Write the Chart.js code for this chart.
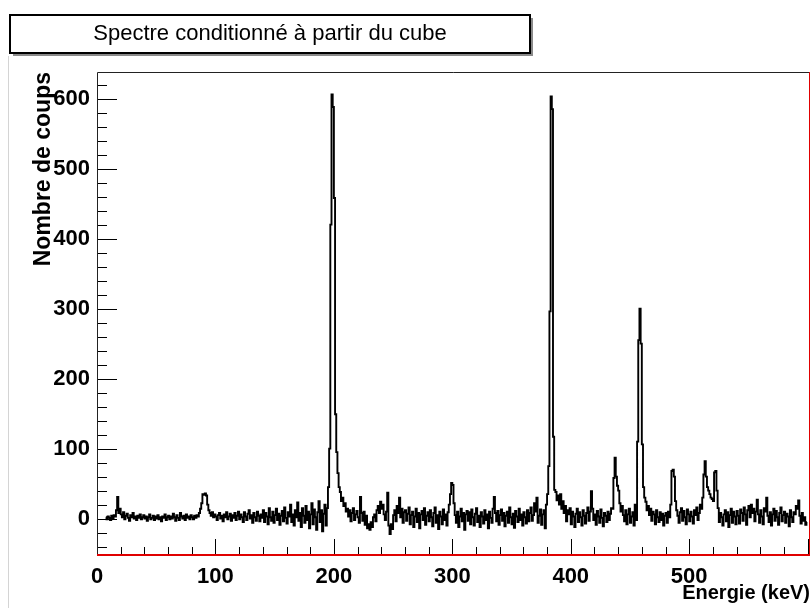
<!DOCTYPE html>
<html>
<head>
<meta charset="utf-8">
<script src="https://cdn.jsdelivr.net/npm/chart.js@4/dist/chart.umd.min.js"></script>
<style>
html, body { margin: 0; padding: 0; background: #fff; }
#wrap { width: 811px; height: 608px; }
</style>
</head>
<body>
<div id="wrap"><canvas id="spectre" width="811" height="608"></canvas></div>
<script>
var titre = 'Spectre conditionné à partir du cube';
var titreX = 'Energie (keV)';
var titreY = 'Nombre de coups';
var xTicks = [0, 100, 200, 300, 400, 500];
var yTicks = [0, 100, 200, 300, 400, 500, 600];

// contenu des canaux de 1 keV (canal i = [i, i+1] keV)
var coups = [
  null,null,null,null,null,null,null,2,-1,3,1,-2,4,0,5,3,12,31,8,14,
  6,2,9,-1,4,7,1,-3,5,2,8,0,3,-2,4,1,6,-1,2,5,
  0,3,-3,2,6,-1,1,4,-2,3,0,5,-1,2,-4,3,1,6,-2,2,
  4,-1,3,0,7,2,-3,5,1,-2,8,3,0,4,-2,6,1,3,-1,5,
  2,-1,4,1,5,3,8,14,22,35,34,36,33,20,12,8,4,9,2,6,
  3,-2,5,8,0,4,-4,6,2,9,-1,3,7,-3,5,1,8,-2,4,10,
  -1,6,2,-5,9,3,-2,7,12,0,5,-6,8,2,-3,10,4,-4,6,1,
  12,-5,8,3,-8,15,2,-3,10,-6,5,14,-2,7,-9,4,11,-4,16,1,
  -7,9,3,20,-5,6,-10,12,2,23,-3,8,-12,15,4,-6,18,-2,10,-14,
  6,22,-8,13,2,-16,9,25,-5,12,-18,7,20,-10,15,45,100,420,606,588,
  458,149,95,65,45,38,25,30,18,22,10,14,3,12,-4,8,15,-2,6,11,
  2,-6,31,8,-3,10,-9,4,-14,-8,-16,-5,-12,2,6,-4,12,18,8,24,
  14,20,6,-2,10,37,-10,-22,-8,-15,5,12,-4,18,8,30,2,14,-6,9,
  12,-3,7,16,-8,5,10,-12,3,14,-5,8,-14,6,11,-2,15,-9,4,9,
  -4,12,2,-11,8,16,-6,5,-15,10,3,-8,13,-2,6,-10,9,20,35,51,
  48,22,5,-6,10,-12,3,14,-4,8,-16,6,11,-3,9,-8,13,2,-10,7,
  15,-5,4,-12,9,3,-7,12,-2,6,-14,10,1,-6,14,31,8,-4,11,-9,
  5,13,-3,8,-11,4,10,-6,16,2,-8,7,-13,11,3,-5,14,-2,6,-10,
  9,2,-7,12,-4,8,16,-3,5,22,10,30,-6,4,13,-9,6,12,-14,20,
  35,75,296,603,585,117,41,38,26,33,20,35,14,25,8,18,-4,12,6,15,
  -8,10,3,-12,7,14,-5,9,2,-10,12,4,-7,8,16,-3,10,39,14,-2,
  6,-9,11,3,-6,13,1,-11,8,4,-5,10,-2,7,15,14,58,87,60,47,
  40,22,10,18,5,-4,12,-8,6,14,-6,3,9,-10,20,-2,110,255,300,250,
  106,45,30,24,12,18,5,14,-3,10,6,-8,12,2,-5,9,-2,7,-10,4,
  8,-6,10,2,20,68,70,60,25,12,4,-6,9,15,-3,11,2,-8,13,6,
  -4,10,3,-7,12,5,16,-2,8,20,14,30,63,82,60,45,40,35,30,28,
  25,66,68,40,15,-5,8,2,-10,6,12,-4,9,-12,5,14,-6,10,3,-8,
  11,4,-7,13,8,-3,16,6,-9,12,18,2,20,8,14,-4,10,27,6,-6,
  12,3,-8,15,10,30,4,-5,9,-10,6,14,-3,11,2,-9,8,16,-4,5,
  10,-6,7,3,-11,12,2,-5,9,6,18,14,26,4,-7,8,-3,2,-9,-5
];

var points = coups.map(function (c, i) { return { x: i + 0.5, y: c }; });
var police = '"Liberation Sans", Arial, Helvetica, sans-serif';

// cadre facon ROOT : graduations vers l'interieur, titre encadre
var cadre = {
    id: 'cadre',
    afterDraw: function (chart) {
        var c = chart.ctx, a = chart.chartArea;
        var sx = chart.scales.x, sy = chart.scales.y;
        c.save();
        // trait gris a gauche
        c.strokeStyle = '#d4d4d4';
        c.lineWidth = 1;
        c.beginPath(); c.moveTo(8.5, 56); c.lineTo(8.5, 608); c.stroke();

        c.strokeStyle = '#000';
        c.lineWidth = 1;
        for (var v = -40; v <= 620; v += 20) {
            var py = Math.round(sy.getPixelForValue(v)) + 0.5;
            var len = (v % 100 === 0) ? 20 : 10;
            c.beginPath(); c.moveTo(a.left, py); c.lineTo(a.left + len, py); c.stroke();
        }
        for (var e = 20; e <= 600; e += 20) {
            var px = Math.round(sx.getPixelForValue(e)) + 0.5;
            var lx = (e % 100 === 0) ? 16 : 8;
            c.beginPath(); c.moveTo(px, a.bottom); c.lineTo(px, a.bottom - lx); c.stroke();
        }
        // bords du cadre
        c.strokeStyle = '#222';
        c.beginPath();
        c.moveTo(a.left + 0.5, a.bottom); c.lineTo(a.left + 0.5, a.top + 0.5); c.lineTo(a.right, a.top + 0.5);
        c.stroke();
        c.strokeStyle = '#e00000';
        c.beginPath(); c.moveTo(a.right - 0.5, a.top); c.lineTo(a.right - 0.5, a.bottom); c.stroke();
        c.lineWidth = 2;
        c.beginPath(); c.moveTo(a.left, a.bottom); c.lineTo(a.right, a.bottom); c.stroke();

        // titre
        c.fillStyle = '#8a8a8a';
        c.fillRect(13, 18, 520, 38);
        c.fillStyle = '#fff';
        c.fillRect(10, 15, 520, 38);
        c.strokeStyle = '#000';
        c.lineWidth = 2;
        c.strokeRect(10, 15, 520, 38);
        c.fillStyle = '#000';
        c.font = '22px ' + police;
        c.textAlign = 'center';
        c.textBaseline = 'middle';
        c.fillText(titre, 270, 34);
        c.restore();
    }
};

var chart = new Chart(document.getElementById('spectre'), {
    type: 'line',
    data: {
        datasets: [{
            data: points,
            borderColor: '#000',
            borderWidth: 1.9,
            stepped: 'middle',
            pointRadius: 0,
            fill: false,
            spanGaps: false
        }]
    },
    options: {
        responsive: false,
        devicePixelRatio: 1,
        animation: false,
        layout: { padding: { top: 72, right: 1, left: 0, bottom: 0 } },
        plugins: { legend: { display: false }, tooltip: { enabled: false }, title: { display: false } },
        scales: {
            x: {
                type: 'linear',
                min: 0,
                max: 602,
                grid: { display: false, drawTicks: false },
                border: { display: false },
                afterBuildTicks: function (s) { s.ticks = xTicks.map(function (v) { return { value: v }; }); },
                afterFit: function (s) { s.height = 53; },
                ticks: { color: '#000', padding: 9, maxRotation: 0, font: { family: police, size: 22, weight: 'bold' } },
                title: { display: true, text: titreX, align: 'end', color: '#000', padding: { top: 0, bottom: 3 },
                         font: { family: police, size: 20, weight: 'bold' } }
            },
            y: {
                min: -52,
                max: 638,
                grid: { display: false, drawTicks: false },
                border: { display: false },
                afterBuildTicks: function (s) { s.ticks = yTicks.map(function (v) { return { value: v }; }); },
                afterFit: function (s) { s.width = 97; },
                ticks: { color: '#000', padding: 7, font: { family: police, size: 22, weight: 'bold' } },
                title: { display: true, text: titreY, align: 'end', color: '#000', padding: { top: 30, bottom: 0 },
                         font: { family: police, size: 23, weight: 'bold' } }
            }
        }
    },
    plugins: [cadre]
});
</script>
</body>
</html>
